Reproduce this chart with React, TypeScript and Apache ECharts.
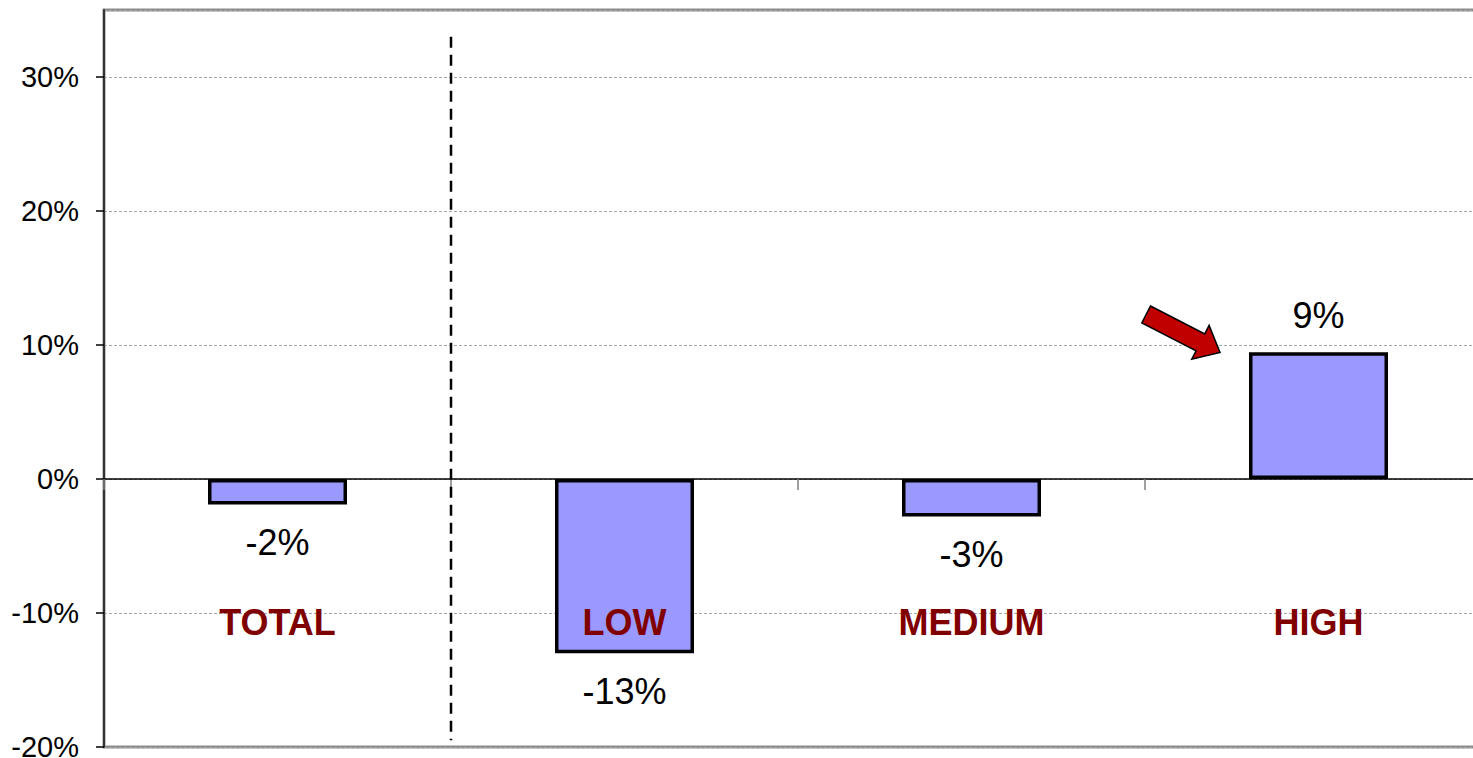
import React, { useEffect, useRef } from "react";
import * as echarts from "echarts";

const categories: string[] = ["TOTAL", "LOW", "MEDIUM", "HIGH"];
const changes: number[] = [-1.9, -13.0, -2.8, 9.45];
const yMin = -20;
const yMax = 35;
const yStep = 10;
const categoryLabelLevel = -10.7;
const separatorTop = 33;
const separatorBottom = -19.5;

const FONT = "'Liberation Sans', Arial, Helvetica, sans-serif";

export default function App() {
  const ref = useRef<HTMLDivElement>(null);

  useEffect(() => {
    if (!ref.current) return;
    const chart = echarts.init(ref.current, undefined, { renderer: "svg" });
    const option: any = {
      animation: false,
      backgroundColor: "#ffffff",
      grid: {
        left: 104,
        top: 10,
        width: 1388,
        height: 737,
        show: true,
        borderColor: "#8c8c8c",
        borderWidth: 3,
        outerBoundsMode: "none",
        containLabel: false,
      },
      xAxis: {
        type: "category",
        data: categories,
        axisLabel: { show: false },
        axisLine: { onZero: true, lineStyle: { color: "#000", width: 1.5 } },
        axisTick: { show: true, length: 11, lineStyle: { color: "#808080", width: 1.5 } },
        splitLine: { show: false },
      },
      yAxis: {
        type: "value",
        min: yMin,
        max: yMax,
        interval: yStep,
        axisLine: { show: true, lineStyle: { color: "#333", width: 2 } },
        axisTick: { show: true, length: 8, lineStyle: { color: "#000", width: 1.5 } },
        axisLabel: {
          fontSize: 29,
          fontFamily: FONT,
          color: "#000",
          margin: 25,
          showMaxLabel: false,
          formatter: (v: number) => (v % yStep === 0 ? `${v}%` : ""),
        },
        splitLine: {
          show: true,
          lineStyle: { color: "#a6a6a6", width: 1, type: [3, 2] },
        },
      },
      series: [
        {
          type: "bar",
          data: changes.map((v) => ({
            value: v,
            label: { position: v < 0 ? "bottom" : "top", distance: v < 0 ? 20 : 19 },
          })),
          barWidth: 139,
          itemStyle: { color: "#9999ff", borderColor: "#000", borderWidth: 3.5 },
          label: {
            show: true,
            fontSize: 36,
            fontFamily: FONT,
            color: "#000",
            formatter: (p: any) => `${Math.round(p.value)}%`,
          },
        },
        {
          type: "scatter",
          data: categories.map((c) => [c, categoryLabelLevel]),
          symbolSize: 0,
          silent: true,
          z: 5,
          itemStyle: { opacity: 1 },
          label: {
            show: true,
            position: "inside",
            opacity: 1,
            fontSize: 36,
            fontWeight: "bold",
            fontFamily: FONT,
            color: "#800000",
            formatter: (p: any) => categories[p.dataIndex],
          },
        },
      ],
    };
    chart.setOption(option);

    // annotation graphics placed through the chart's own scales
    const x0 = chart.convertToPixel({ xAxisIndex: 0 }, categories[0]) as number;
    const x1 = chart.convertToPixel({ xAxisIndex: 0 }, categories[1]) as number;
    const sepX = (x0 + x1) / 2;
    const sepTop = chart.convertToPixel({ yAxisIndex: 0 }, separatorTop) as number;
    const sepBot = chart.convertToPixel({ yAxisIndex: 0 }, separatorBottom) as number;

    const hiIdx = categories.length - 1;
    const hiX = chart.convertToPixel({ xAxisIndex: 0 }, categories[hiIdx]) as number;
    const hiY = chart.convertToPixel({ yAxisIndex: 0 }, changes[hiIdx]) as number;
    const tip = [hiX - 139 / 2 - 29, hiY];
    const ang = Math.atan2(38, 74);
    const u = [Math.cos(ang), Math.sin(ang)];
    const vv = [-Math.sin(ang), Math.cos(ang)];
    const L = 83;
    const tail = [tip[0] - L * u[0], tip[1] - L * u[1]];
    const local: number[][] = [
      [0, -9.5],
      [61, -9.5],
      [61, -19],
      [L, 0],
      [61, 19],
      [61, 9.5],
      [0, 9.5],
    ];
    const pts = local.map(([a, b]) => [
      tail[0] + a * u[0] + b * vv[0],
      tail[1] + a * u[1] + b * vv[1],
    ]);

    chart.setOption({
      graphic: [
        {
          type: "line",
          z: 10,
          shape: { x1: sepX, y1: sepTop, x2: sepX, y2: sepBot },
          style: { stroke: "#000", lineWidth: 2.5, lineDash: [11, 7] },
        },
        {
          type: "polygon",
          z: 10,
          shape: { points: pts },
          style: { fill: "#c00000", stroke: "#000", lineWidth: 1.5 },
        },
      ],
    });

    return () => chart.dispose();
  }, []);

  return (
    <div
      ref={ref}
      style={{ position: "fixed", left: 0, top: 0, width: 1473, height: 758, background: "#fff" }}
    />
  );
}
